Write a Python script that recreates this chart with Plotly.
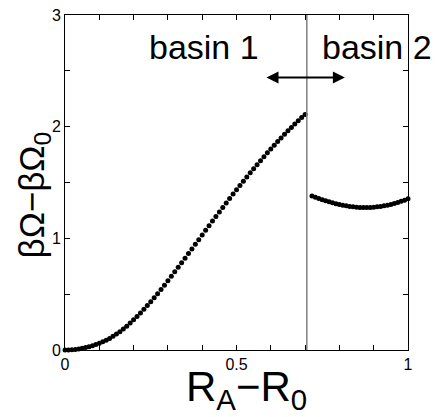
import plotly.graph_objects as go

# ---- data ----
basin1_x = [round(i * 0.01, 2) for i in range(0, 71)]
basin1_y = [0.0, 0.0006, 0.0024, 0.0054, 0.0096, 0.015, 0.0216, 0.0294, 0.0384, 0.0486,
            0.060, 0.0729, 0.0876, 0.1041, 0.1224, 0.1425, 0.1644, 0.1881, 0.2136, 0.2409,
            0.270, 0.3005, 0.332, 0.3645, 0.398, 0.4325, 0.468, 0.5045, 0.542, 0.5805,
            0.620, 0.6601, 0.7004, 0.7409, 0.7816, 0.8225, 0.8636, 0.9049, 0.9464, 0.9881,
            1.030, 1.0719, 1.1134, 1.1547, 1.1956, 1.2363, 1.2766, 1.3167, 1.3564, 1.3959,
            1.435, 1.4738, 1.512, 1.5498, 1.587, 1.6238, 1.660, 1.6958, 1.731, 1.7658,
            1.800, 1.8337, 1.8668, 1.8993, 1.9312, 1.9625, 1.9932, 2.0233, 2.0528, 2.0817,
            2.110]

basin2_x = [round(0.72 + i * 0.01, 2) for i in range(0, 29)]
basin2_y = [1.380, 1.368, 1.357, 1.346, 1.336, 1.327, 1.318, 1.310, 1.303, 1.297,
            1.291, 1.286, 1.282, 1.279, 1.277, 1.276, 1.276, 1.277, 1.279, 1.282,
            1.286, 1.291, 1.297, 1.304, 1.312, 1.321, 1.331, 1.342, 1.354]

boundary_x = 0.705
arrow_x = [0.583, 0.816]
arrow_y = 2.44

x_tickvals = [round(i * 0.1, 1) for i in range(0, 11)]
x_ticktext = ["0", "", "", "", "", "0.5", "", "", "", "", "1"]
y_tickvals = [0, 0.5, 1, 1.5, 2, 2.5, 3]
y_ticktext = ["0", "", "1", "", "2", "", "3"]

labels = [("basin 1", 0.405, 2.71), ("basin 2", 0.91, 2.71)]

FONT = "Liberation Sans, Arial, Helvetica, sans-serif"

fig = go.Figure()
fig.add_trace(go.Scatter(x=basin1_x, y=basin1_y, mode="markers",
                         marker=dict(color="black", size=5), cliponaxis=False,
                         showlegend=False))
fig.add_trace(go.Scatter(x=basin2_x, y=basin2_y, mode="markers",
                         marker=dict(color="black", size=5), cliponaxis=False,
                         showlegend=False))

fig.add_shape(type="line", x0=boundary_x, x1=boundary_x, y0=0, y1=1,
              xref="x", yref="paper", line=dict(color="#808080", width=1.5))

for txt, tx, ty in labels:
    fig.add_annotation(x=tx, y=ty, xref="x", yref="y", text=txt, showarrow=False,
                       font=dict(family=FONT, size=34, color="black"))

fig.add_annotation(x=arrow_x[1], y=arrow_y, ax=arrow_x[0], ay=arrow_y,
                   xref="x", yref="y", axref="x", ayref="y", text="",
                   showarrow=True, arrowside="end+start", arrowhead=2,
                   arrowsize=1.2, arrowwidth=2, arrowcolor="black")

# axis titles
fig.add_annotation(x=0.5, y=0, xref="paper", yref="paper", xanchor="center", yanchor="top",
                   yshift=-12, xshift=10, borderpad=0,
                   text="R<sub>A</sub>−R<sub>0</sub>", showarrow=False,
                   font=dict(family=FONT, size=42, color="black"))
fig.add_annotation(x=0, y=0.5, xref="paper", yref="paper", xanchor="center", yanchor="middle",
                   xshift=-32, yshift=-13, textangle=-90,
                   text="βΩ−βΩ<sub>0</sub>", showarrow=False,
                   font=dict(family=FONT, size=35, color="black"))

axis_common = dict(showgrid=False, zeroline=False, showline=True, linecolor="black",
                   linewidth=1, mirror="ticks", ticks="inside", ticklen=5, tickwidth=1,
                   tickcolor="black", ticklabeloverflow="allow",
                   tickfont=dict(family=FONT, size=16, color="black"))

fig.update_xaxes(range=[0, 1], tickmode="array", tickvals=x_tickvals, ticktext=x_ticktext,
                 **axis_common)
fig.update_yaxes(range=[0, 3], tickmode="array", tickvals=y_tickvals, ticktext=y_ticktext,
                 **axis_common)

fig.update_layout(width=443, height=417, margin=dict(l=65, r=35, t=7, b=67),
                  plot_bgcolor="white", paper_bgcolor="white", showlegend=False)

fig.write_html("out.html", config={"displayModeBar": False},
               post_script="document.body.style.margin='0';")
